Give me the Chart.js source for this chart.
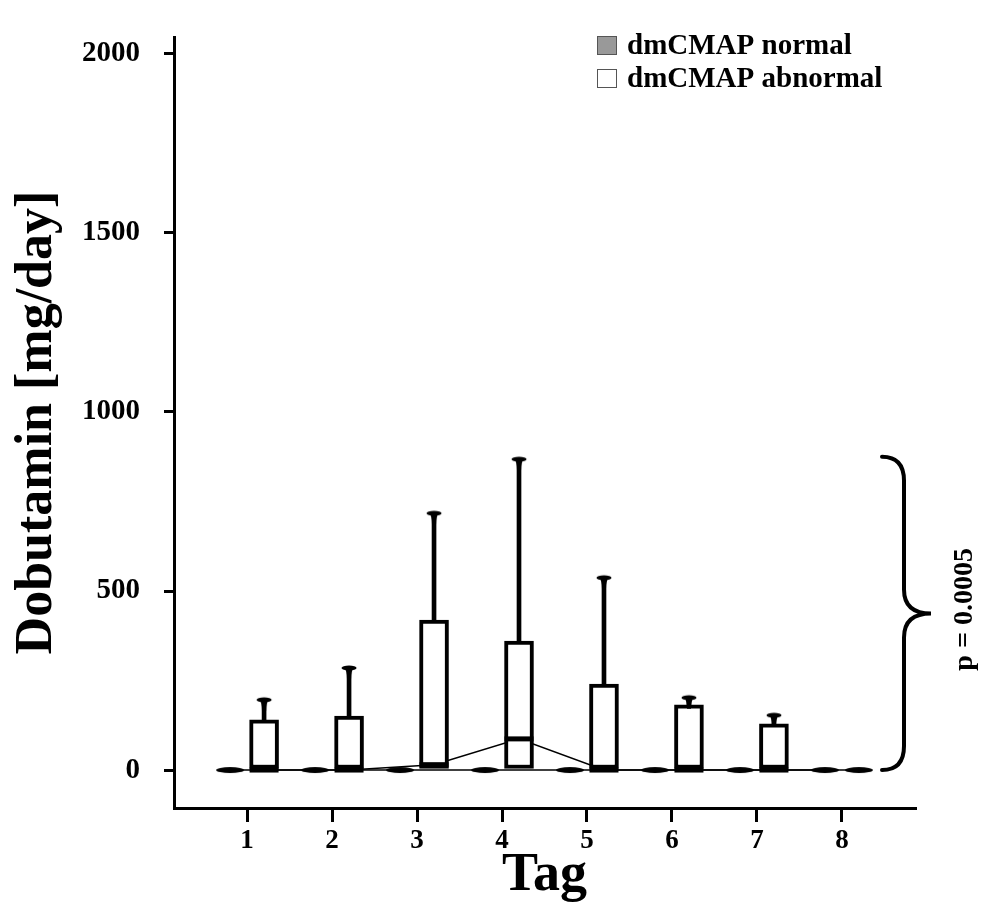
<!DOCTYPE html>
<html>
<head>
<meta charset="utf-8">
<script src="https://cdn.jsdelivr.net/npm/chart.js@4.4.0/dist/chart.umd.min.js"></script>
<style>
html,body{margin:0;padding:0;background:#fff;}
#wrap{width:982px;height:904px;}
</style>
</head>
<body>
<div id="wrap"><canvas id="c" width="982" height="904"></canvas></div>
<script>
// ---- data ----
const tags = [1, 2, 3, 4, 5, 6, 7, 8];
const xTickLabels = ['1', '2', '3', '4', '5', '6', '7', '8'];
const yTickValues = [0, 500, 1000, 1500, 2000];
const yTickLabels = ['0', '500', '1000', '1500', '2000'];
const seriesNames = ['dmCMAP normal', 'dmCMAP abnormal'];

const normalQ1     = [0, 0, 0, 0, 0, 0, 0, 0];
const normalMedian = [0, 0, 0, 0, 0, 0, 0, 0];
const normalQ3     = [0, 0, 0, 0, 0, 0, 0, 0];
const normalMax    = [0, 0, 0, 0, 0, 0, 0, 0];

const abnQ1     = [0, 0, 0, 0, 0, 0, 0, 0];
const abnMedian = [0, 0, 15, 87, 0, 0, 0, 0];
const abnQ3     = [140, 151, 419, 360, 240, 182, 129, 0];
const abnMax    = [196, 285, 717, 868, 537, 202, 153, 0];

const pValueText = 'p = 0.0005';
const braceFrom = 0, braceTo = 875;

// ---- styling helpers ----
const SERIF = "'Liberation Serif', 'Times New Roman', Times, serif";
const OFF_N = -0.2, OFF_A = 0.2;

function makeCap() {
  const c = document.createElement('canvas');
  c.width = 18; c.height = 28;
  const g = c.getContext('2d');
  g.fillStyle = '#000';
  g.beginPath(); g.ellipse(9, 14, 7.5, 2.6, 0, 0, Math.PI * 2); g.fill();
  g.beginPath();
  g.moveTo(4.5, 14.5);
  g.quadraticCurveTo(7, 17, 7, 25);
  g.lineTo(11, 25);
  g.quadraticCurveTo(11, 17, 13.5, 14.5);
  g.closePath(); g.fill();
  return c;
}
function makeZero() {
  const c = document.createElement('canvas');
  c.width = 30; c.height = 8;
  const g = c.getContext('2d');
  g.fillStyle = '#000';
  g.beginPath(); g.ellipse(15, 4, 14, 3, 0, 0, Math.PI * 2); g.fill();
  return c;
}
const capImg = makeCap();
const zeroImg = makeZero();

function boxes(q1, q3, off) {
  return tags.map((t, i) => q3[i] > q1[i] ? { x: t + off, y: [q1[i], q3[i]] } : null).filter(Boolean);
}
function whiskers(q3, mx, off) {
  return tags.map((t, i) => mx[i] > q3[i] ? { x: t + off, y: [q3[i], mx[i]] } : null).filter(Boolean);
}
function caps(q3, mx, off) {
  return tags.map((t, i) => mx[i] > q3[i] ? { x: t + off, y: mx[i] } : null).filter(Boolean);
}
function flats(q1, q3, off) {
  return tags.map((t, i) => q3[i] === q1[i] ? { x: t + off, y: q3[i] } : null).filter(Boolean);
}
function medPts(q1, q3, med, off) {
  return tags.map((t, i) => q3[i] > q1[i] ? { x: t + off, y: med[i] } : null).filter(Boolean);
}
function medLine(med, off) {
  return tags.map((t, i) => ({ x: t + off, y: med[i] }));
}

const barCommon = { type: 'bar', grouped: false, borderSkipped: false };

const datasets = [
  { type: 'line', label: 'normal median', data: medLine(normalMedian, OFF_N), borderColor: '#000', borderWidth: 1.5, pointRadius: 0, showLine: true, tension: 0, order: 10 },
  { type: 'line', label: 'abnormal median', data: medLine(abnMedian, OFF_A), borderColor: '#000', borderWidth: 1.5, pointRadius: 0, showLine: true, tension: 0, order: 10 },
  Object.assign({}, barCommon, { label: 'normal whisker', data: whiskers(normalQ3, normalMax, OFF_N), backgroundColor: '#000', borderWidth: 0, barThickness: 4, order: 5 }),
  Object.assign({}, barCommon, { label: 'abnormal whisker', data: whiskers(abnQ3, abnMax, OFF_A), backgroundColor: '#000', borderWidth: 0, barThickness: 4, order: 5 }),
  Object.assign({}, barCommon, { label: seriesNames[0], data: boxes(normalQ1, normalQ3, OFF_N), backgroundColor: '#999999', borderColor: '#000', borderWidth: 4, barThickness: 29, order: 3 }),
  Object.assign({}, barCommon, { label: seriesNames[1], data: boxes(abnQ1, abnQ3, OFF_A), backgroundColor: '#ffffff', borderColor: '#000', borderWidth: 4, barThickness: 29, order: 3 }),
  { type: 'scatter', label: 'normal med mark', data: medPts(normalQ1, normalQ3, normalMedian, OFF_N), pointStyle: 'line', pointRadius: 14.5, pointBorderWidth: 5, pointBorderColor: '#000', order: 1 },
  { type: 'scatter', label: 'abnormal med mark', data: medPts(abnQ1, abnQ3, abnMedian, OFF_A), pointStyle: 'line', pointRadius: 14.5, pointBorderWidth: 5, pointBorderColor: '#000', order: 1 },
  { type: 'scatter', label: 'normal cap', data: caps(normalQ3, normalMax, OFF_N), pointStyle: capImg, pointRadius: 5, order: 2 },
  { type: 'scatter', label: 'abnormal cap', data: caps(abnQ3, abnMax, OFF_A), pointStyle: capImg, pointRadius: 5, order: 2 },
  { type: 'scatter', label: 'normal flat', data: flats(normalQ1, normalQ3, OFF_N), pointStyle: zeroImg, pointRadius: 5, order: 2 },
  { type: 'scatter', label: 'abnormal flat', data: flats(abnQ1, abnQ3, OFF_A), pointStyle: zeroImg, pointRadius: 5, order: 2 }
];

const extras = {
  id: 'extras',
  afterDraw(chart) {
    const ctx = chart.ctx;
    const ys = chart.scales.y;
    ctx.save();
    // legend
    ctx.lineWidth = 1;
    ctx.fillStyle = '#999999'; ctx.strokeStyle = '#555';
    ctx.fillRect(597, 36, 20, 19); ctx.strokeRect(597.5, 36.5, 19, 18);
    ctx.fillStyle = '#ffffff';
    ctx.fillRect(597, 69, 20, 19); ctx.strokeRect(597.5, 69.5, 19, 18);
    ctx.fillStyle = '#000';
    ctx.font = 'bold 29px ' + SERIF;
    ctx.textBaseline = 'alphabetic'; ctx.textAlign = 'left';
    ctx.fillText(seriesNames[0], 627, 54);
    ctx.fillText(seriesNames[1], 627, 87);
    // brace
    const yTop = ys.getPixelForValue(braceTo), yBot = ys.getPixelForValue(braceFrom);
    const yMid = (yTop + yBot) / 2;
    const x0 = 882, xm = 904, xt = 931, r = 24;
    ctx.strokeStyle = '#000'; ctx.lineWidth = 4; ctx.lineCap = 'round';
    ctx.beginPath();
    ctx.moveTo(x0, yTop);
    ctx.quadraticCurveTo(xm, yTop, xm, yTop + r);
    ctx.lineTo(xm, yMid - r);
    ctx.quadraticCurveTo(xm, yMid, xt, yMid);
    ctx.quadraticCurveTo(xm, yMid, xm, yMid + r);
    ctx.lineTo(xm, yBot - r);
    ctx.quadraticCurveTo(xm, yBot, x0, yBot);
    ctx.stroke();
    // p value
    ctx.translate(965, yMid - 4);
    ctx.rotate(-Math.PI / 2);
    ctx.font = 'bold 28px ' + SERIF;
    ctx.textAlign = 'center'; ctx.textBaseline = 'middle';
    ctx.fillText(pValueText, 0, 0);
    ctx.restore();
  }
};

new Chart(document.getElementById('c'), {
  type: 'scatter',
  data: { datasets },
  options: {
    responsive: false,
    animation: false,
    devicePixelRatio: 1,
    layout: { padding: { left: 0, top: 15, right: 67, bottom: 0 } },
    plugins: { legend: { display: false }, tooltip: { enabled: false } },
    scales: {
      x: {
        type: 'linear', min: 0.14, max: 8.86, offset: false,
        afterFit(s) { s.height = 96; },
        afterBuildTicks(s) { s.ticks = tags.map(v => ({ value: v })); },
        border: { display: true, color: '#000', width: 3 },
        grid: { display: true, offset: false, drawOnChartArea: false, drawTicks: true, tickLength: 14, tickWidth: 3, tickColor: '#000', color: '#000', lineWidth: 3 },
        ticks: {
          color: '#000', padding: 3, maxRotation: 0, autoSkip: false,
          font: { family: SERIF, size: 27, weight: 'bold' },
          callback(v) { const i = tags.indexOf(v); return i >= 0 ? xTickLabels[i] : ''; }
        },
        title: { display: true, text: 'Tag', color: '#000', padding: { top: 0, bottom: 1 }, font: { family: SERIF, size: 54, weight: 'bold', lineHeight: 1 } }
      },
      y: {
        type: 'linear', min: -106, max: 2047,
        afterFit(s) { s.width = 174; },
        afterBuildTicks(s) { s.ticks = yTickValues.map(v => ({ value: v })); },
        border: { display: true, color: '#000', width: 3 },
        grid: { display: true, offset: false, drawOnChartArea: false, drawTicks: true, tickLength: 10, tickWidth: 3, tickColor: '#000', color: '#000', lineWidth: 3 },
        ticks: {
          color: '#000', padding: 24, autoSkip: false,
          font: { family: SERIF, size: 29, weight: 'bold', lineHeight: 0.9 },
          callback(v) { const i = yTickValues.indexOf(v); return i >= 0 ? yTickLabels[i] : ''; }
        },
        title: { display: true, text: 'Dobutamin [mg/day]', color: '#000', padding: { top: 12, bottom: 0 }, font: { family: SERIF, size: 52, weight: 'bold', lineHeight: 1 } }
      }
    }
  },
  plugins: [extras]
});
</script>
</body>
</html>
